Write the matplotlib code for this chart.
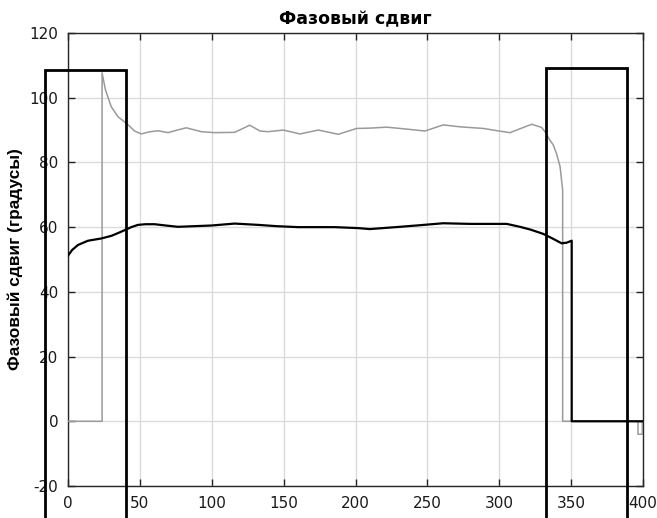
import matplotlib
matplotlib.use("Agg")
import matplotlib.pyplot as plt

plt.rcParams['font.family'] = ['DejaVu Sans']
plt.rcParams['axes.unicode_minus'] = False

# Gray signal (x, y)
gray_x = [0, 23.7, 23.7, 26, 30.1, 34.8, 40.6, 46.4, 51, 56, 62.6, 69.6, 76, 82.3, 92.7, 102, 116,
          126.4, 133.6, 139, 149.8, 161.4, 174.1, 188, 200.8, 210, 221.7, 235.6, 248.3, 261,
          272.7, 288.9, 300, 307.5, 315, 322.6, 329.5, 331.8, 335.3, 337.6, 340, 342.3, 344.1,
          344.1, 396.5, 396.5, 399.5, 399.5]
gray_y = [0, 0, 107.7, 102.5, 97.2, 94.1, 92.1, 89.7, 88.8, 89.4, 89.8, 89.2, 90.0, 90.7, 89.5, 89.2, 89.3,
          91.5, 89.7, 89.5, 90.0, 88.8, 90.0, 88.7, 90.5, 90.6, 90.9, 90.3, 89.7, 91.6,
          91.0, 90.5, 89.7, 89.2, 90.5, 91.8, 90.8, 89.5, 86.8, 85.4, 82.5, 78.7, 71.5,
          0, 0, -4, -4, 0]

# Black signal (x, y)
black_x = [0, 3, 7, 13.9, 23.2, 30.1, 35, 40.6, 44, 48.7, 54, 60.3, 68, 76.5, 88, 99.7, 115.9, 132.2,
           145, 160, 185.5, 201.7, 210, 231, 245, 261, 280, 305.2, 314.4, 322, 330.7, 337, 343.4,
           346.9, 350.4, 350.4, 400]
black_y = [51.2, 53.0, 54.5, 55.8, 56.5, 57.3, 58.2, 59.3, 60.0, 60.7, 60.9, 60.9, 60.5, 60.1, 60.3, 60.5, 61.1, 60.7,
           60.3, 60.0, 60.0, 59.7, 59.4, 60.1, 60.6, 61.2, 61.0, 61.0, 60.1, 59.2, 57.9, 56.5, 55.0,
           55.2, 55.8, 0, 0]

# Rectangular pulses: [left, right, top]
rect_left = [-16.0, 40.3, 108.6]
rect_right = [332.3, 388.6, 109.3]

title = "Фазовый сдвиг"
ylabel = "Фазовый сдвиг (градусы)"
xticks = [0, 50, 100, 150, 200, 250, 300, 350, 400]
yticks = [-20, 0, 20, 40, 60, 80, 100, 120]

fig = plt.figure(figsize=(6.57, 5.18), dpi=100)
ax = fig.add_axes([0.1035, 0.0618, 0.8752, 0.8745])

ax.plot(gray_x, gray_y, color='#9a9a9a', lw=1.1, zorder=3)
ax.plot(black_x, black_y, color='black', lw=1.6, zorder=4)

for x0, x1, top in (rect_left, rect_right):
    ax.plot([x0, x0, x1, x1], [-45, top, top, -45], color='black', lw=2.0,
            clip_on=False, zorder=5, solid_joinstyle='miter')

ax.set_xlim(0, 400)
ax.set_ylim(-20, 120)
ax.set_xticks(xticks)
ax.set_yticks(yticks)
ax.grid(True, color='#dcdcdc', lw=1.0)
ax.set_axisbelow(True)
ax.tick_params(direction='in', top=True, right=True, labelsize=11, colors='#262626',
               length=5, width=1, labelcolor='#1a1a1a')
ax.tick_params(axis='y', pad=7)
ax.tick_params(axis='x', pad=7)
for s in ax.spines.values():
    s.set_color('#262626')
    s.set_linewidth(1.0)

ax.set_title(title, fontsize=12.5, fontweight='bold', pad=6)
ax.set_ylabel(ylabel, fontsize=12.4, fontweight='bold', labelpad=4.5,
              family=['Liberation Sans', 'DejaVu Sans'])

fig.savefig("out.png", dpi=100)
